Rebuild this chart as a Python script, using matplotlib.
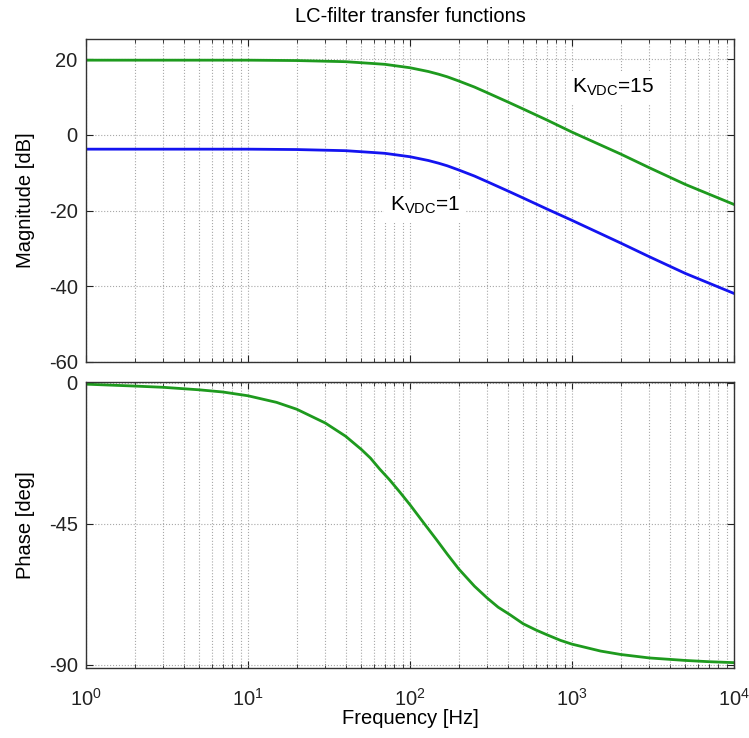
import numpy as np
import matplotlib
matplotlib.use("Agg")
import matplotlib.pyplot as plt
from matplotlib.ticker import LogLocator, NullFormatter, FixedLocator

plt.rcParams['font.family'] = ['Liberation Sans', 'DejaVu Sans']
plt.rcParams['mathtext.fontset'] = 'custom'
plt.rcParams['mathtext.rm'] = 'Liberation Sans'
plt.rcParams['mathtext.it'] = 'Liberation Sans:italic'
plt.rcParams['mathtext.bf'] = 'Liberation Sans:bold'
plt.rcParams['axes.unicode_minus'] = False

# Magnitude response samples [Hz] -> [dB]
mag_freq = [1, 2, 5, 10, 20, 40, 60, 70, 100, 130, 150, 170, 200, 250, 300, 400, 500,
            700, 1000, 2000, 3000, 5000, 10000]
mag_k15 = [19.7, 19.7, 19.7, 19.7, 19.6, 19.3, 18.8, 18.6, 17.7, 16.7, 16.0, 15.3,
           14.2, 12.6, 11.1, 8.7, 6.8, 3.9, 0.7, -5.1, -8.7, -13.1, -18.4]
mag_k1 = [-3.8, -3.8, -3.8, -3.8, -3.9, -4.2, -4.7, -4.9, -5.8, -6.8, -7.5, -8.2,
          -9.3, -10.9, -12.4, -14.8, -16.7, -19.6, -22.6, -28.6, -32.2, -36.6, -41.9]

# Phase response samples [Hz] -> [deg]
ph_freq = [1, 2, 3, 5, 7, 10, 15, 20, 30, 40, 50, 57, 65, 75, 87, 100, 124, 146, 170,
           200, 250, 300, 350, 414, 500, 600, 700, 850, 1000, 1500, 2000, 3000, 5000,
           7000, 10000]
ph_deg = [-0.4, -1.0, -1.4, -2.2, -2.9, -4.1, -6.2, -8.4, -12.8, -17.0, -21.2, -24.0,
          -27.5, -31.0, -35.0, -38.9, -45.3, -50.1, -54.7, -59.4, -64.9, -68.7, -71.6,
          -74.0, -76.9, -78.9, -80.4, -82.2, -83.4, -85.6, -86.7, -87.8, -88.6, -89.0,
          -89.3]

labels = ['$\\mathregular{K_{VDC}}$=15', '$\\mathregular{K_{VDC}}$=1']

GREEN = '#1e9a1e'
BLUE = '#1414f0'
FS = 14.5

fig = plt.figure(figsize=(7.49, 7.38), dpi=100)
ax1 = fig.add_axes([0.1148, 0.5095, 0.8652, 0.4377])
ax2 = fig.add_axes([0.1148, 0.0949, 0.8652, 0.3875])


def style(ax):
    ax.set_xscale('log')
    ax.set_xlim(1, 1e4)
    ax.xaxis.set_major_locator(LogLocator(base=10, numticks=10))
    ax.xaxis.set_minor_locator(LogLocator(base=10, subs=np.arange(2, 10), numticks=20))
    ax.xaxis.set_minor_formatter(NullFormatter())
    ax.grid(True, which='major', axis='both', linestyle=':', color='#a8a8a8', linewidth=0.8)
    ax.grid(True, which='minor', axis='x', linestyle=':', color='#a8a8a8', linewidth=0.8)
    ax.tick_params(which='both', direction='in', top=True, right=True,
                   labelsize=FS, colors='#222222')
    ax.tick_params(which='major', length=5, width=0.8)
    ax.tick_params(which='minor', length=3, width=0.6)
    ax.tick_params(axis='y', pad=6)
    for s in ax.spines.values():
        s.set_color('#333333')
        s.set_linewidth(1.0)
    ax.set_axisbelow(True)


style(ax1)
style(ax2)

ax1.plot(mag_freq, mag_k15, color=GREEN, linewidth=2.0)
ax1.plot(mag_freq, mag_k1, color=BLUE, linewidth=2.0)
ax1.set_ylim(-60, 25.3)
ax1.yaxis.set_major_locator(FixedLocator([-60, -40, -20, 0, 20]))
ax1.set_xticklabels([])
ax1.set_ylabel('Magnitude [dB]', fontsize=FS)
ax1.set_title('LC-filter transfer functions', fontsize=FS, pad=12)

box = dict(facecolor='white', edgecolor='none', pad=4)
ax1.text(1000, 12.4, labels[0], fontsize=FS + 0.5, va='center', ha='left', bbox=box)
ax1.text(75, -18.7, labels[1], fontsize=FS + 0.5, va='center', ha='left', bbox=box)

ax2.plot(ph_freq, ph_deg, color=GREEN, linewidth=2.0)
ax2.set_ylim(-91, 0.3)
ax2.yaxis.set_major_locator(FixedLocator([-90, -45, 0]))
ax2.tick_params(axis='x', pad=14)
ax2.set_ylabel('Phase [deg]', fontsize=FS)
ax2.set_xlabel('Frequency [Hz]', fontsize=FS, labelpad=0)

ax1.yaxis.set_label_coords(-0.079, 0.5)
ax2.yaxis.set_label_coords(-0.079, 0.5)

fig.savefig('out.png', dpi=100, facecolor='white')
